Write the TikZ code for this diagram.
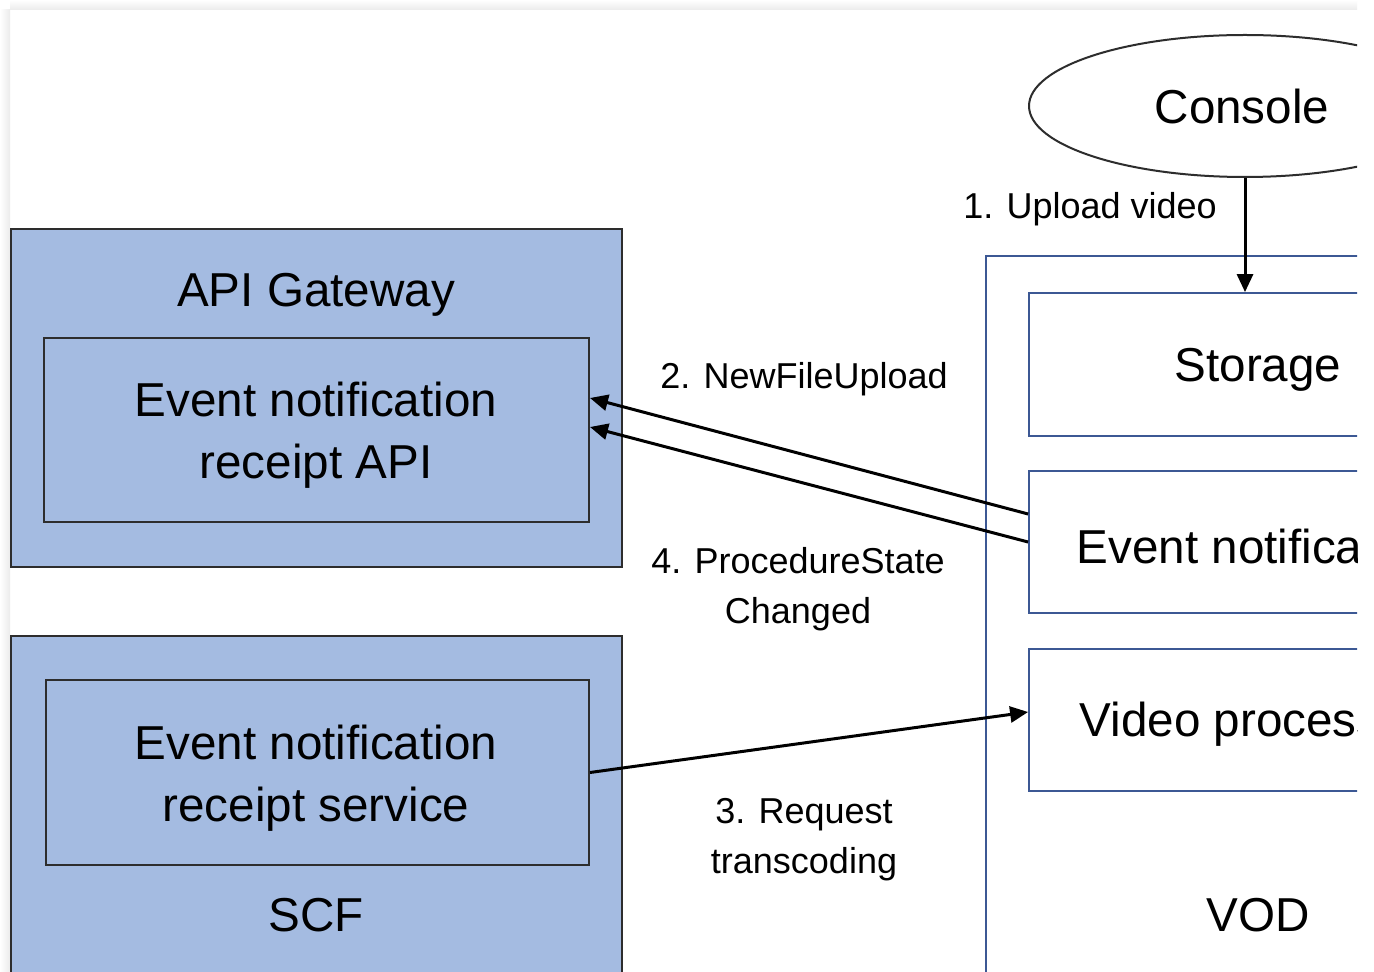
\documentclass[tikz,border=0pt]{standalone}
\usepackage{fontspec}
\setmainfont{Liberation Sans}
\usetikzlibrary{arrows.meta,shapes.geometric}
\definecolor{cloudblue}{RGB}{164,187,225}
\definecolor{edgegray}{RGB}{45,45,45}
\definecolor{vodblue}{RGB}{60,88,148}
\begin{document}
\begin{tikzpicture}[x=0.5pt,y=-0.5pt,
  bigtext/.style={font=\fontsize{23.8}{31}\selectfont, align=center, inner sep=0pt},
  smalltext/.style={font=\fontsize{18}{25}\selectfont, align=center, inner sep=0pt},
  cloudbox/.style={draw=edgegray, line width=1pt, fill=cloudblue, inner sep=0pt},
  vodbox/.style={draw=vodblue, line width=0.9pt, fill=white, inner sep=0pt},
  conn/.style={line width=1.5pt, -{Triangle[length=9pt,width=8pt]}}]
\useasboundingbox (0,0) rectangle (1374,972);
\fill[white] (0,0) rectangle (1374,972);
% soft page shadow along the top and left edges
\shade[left color=white, right color=black!8] (0,10) rectangle (10,972);
\shade[top color=white, bottom color=black!8] (10,0) rectangle (1357,10);
\begin{scope}
\clip (10,10) rectangle (1357,972);
% API Gateway
\node[cloudbox, minimum width=305.5pt, minimum height=169pt] (gw) at (316.5,398) {};
\node[bigtext] (gwlabel) at (316,295) {API Gateway};
\node[cloudbox, minimum width=272.5pt, minimum height=92pt] (apiin) at (316.5,430) {};
\node[bigtext] (apitext) at (316,435) {Event notification\\receipt API};
% SCF
\node[cloudbox, minimum width=305.5pt, minimum height=232pt] (scf) at (316.5,868) {};
\node[cloudbox, minimum width=271.5pt, minimum height=92.5pt] (scfin) at (317.5,772.5) {};
\node[bigtext] (scftext) at (316,778) {Event notification\\receipt service};
\node[bigtext] (scflabel) at (316,915) {SCF};
% Console
\node[ellipse, draw=edgegray, line width=1pt, fill=white, minimum width=216pt, minimum height=71pt] (console) at (1245,106) {};
\node[bigtext] (consolelabel) at (1242,106) {Console};
% VOD
\node[vodbox, minimum width=272pt, minimum height=422pt] (vod) at (1258,678) {};
\node[vodbox, minimum width=229pt, minimum height=71.5pt] (store) at (1258,364.5) {};
\node[bigtext] (storetext) at (1258,370) {Storage};
\node[vodbox, minimum width=229pt, minimum height=71pt] (evt) at (1258,542) {};
\node[bigtext] (evttext) at (1258,546) {Event notification};
\node[vodbox, minimum width=229pt, minimum height=71pt] (vid) at (1258,720) {};
\node[bigtext] (vidtext) at (1262,724) {Video processing};
\node[bigtext] (vodlabel) at (1258,915) {VOD};
% connector labels
\node[smalltext] (l1) at (1090,209) {1. Upload video};
\node[smalltext] (l2) at (804,379) {2. NewFileUpload};
\node[smalltext] (l4) at (798,589) {4. ProcedureState\\Changed};
\node[smalltext] (l3) at (804,840) {3. Request\\transcoding};
% connectors
\draw[conn] (console.south) -- (console.south |- store.north);
\draw[conn] ([yshift=14pt]evt.west) -- ([yshift=16pt]apiin.east);
\draw[conn] ([yshift=0pt]evt.west) -- ([yshift=1.5pt]apiin.east);
\draw[conn] (scfin.east) -- ([yshift=4pt]vid.west);
\end{scope}
\end{tikzpicture}
\end{document}
